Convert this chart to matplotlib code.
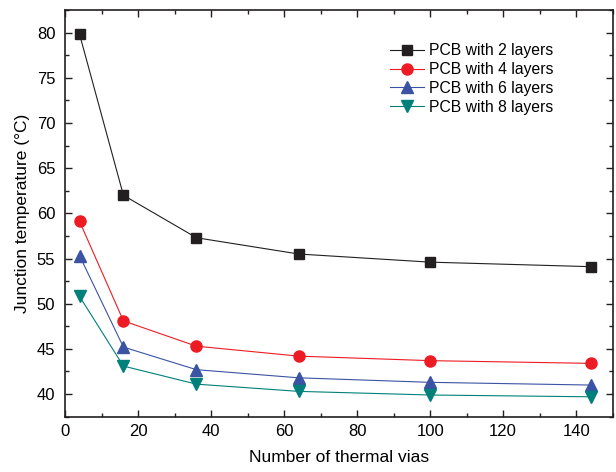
import numpy as np
import matplotlib.pyplot as plt
from matplotlib.ticker import MultipleLocator

plt.rcParams['font.family'] = ['Liberation Sans', 'DejaVu Sans']

vias = [4, 16, 36, 64, 100, 144]
temp_2 = [79.8, 62.0, 57.3, 55.5, 54.6, 54.1]
temp_4 = [59.1, 48.1, 45.3, 44.2, 43.7, 43.4]
temp_6 = [55.3, 45.2, 42.7, 41.8, 41.3, 41.0]
temp_8 = [50.8, 43.1, 41.1, 40.3, 39.9, 39.7]
labels = ['PCB with 2 layers', 'PCB with 4 layers', 'PCB with 6 layers', 'PCB with 8 layers']

fig = plt.figure(figsize=(6.16, 4.72), dpi=100)
ax = fig.add_axes([0.1055, 0.1172, 0.8892, 0.8616])

ax.plot(vias, temp_2, color='#231f20', marker='s', ms=7, lw=0.8, label=labels[0])
ax.plot(vias, temp_4, color='#ed1c24', marker='o', ms=8, lw=0.8, label=labels[1])
ax.plot(vias, temp_6, color='#3a53a4', marker='^', ms=8.5, lw=0.8, label=labels[2])
ax.plot(vias, temp_8, color='#00807a', marker='v', ms=8.5, lw=0.8, label=labels[3])

ax.set_xlim(0, 150)
ax.set_ylim(37.5, 82.5)
ax.xaxis.set_major_locator(MultipleLocator(20))
ax.xaxis.set_minor_locator(MultipleLocator(10))
ax.yaxis.set_major_locator(MultipleLocator(5))
ax.yaxis.set_minor_locator(MultipleLocator(2.5))
ax.tick_params(which='both', direction='in', top=True, right=True, labelsize=12, width=1, color='#231f20')
ax.tick_params(which='major', length=5, pad=5)
ax.tick_params(which='minor', length=3)
ax.tick_params(axis='y', which='major', pad=7)
for s in ax.spines.values():
    s.set_linewidth(1.2)
    s.set_color('#231f20')
ax.set_xlabel('Number of thermal vias', fontsize=12.5, labelpad=8)
ax.set_ylabel('Junction temperature (\u00b0C)', fontsize=12.5, labelpad=5)

ax.legend(loc='upper left', bbox_to_anchor=(0.593, 0.918), frameon=False, fontsize=11.3,
          handlelength=2.2, handletextpad=0.32, labelspacing=0.24,
          borderpad=0, borderaxespad=0)

fig.savefig('out.png', dpi=100)
